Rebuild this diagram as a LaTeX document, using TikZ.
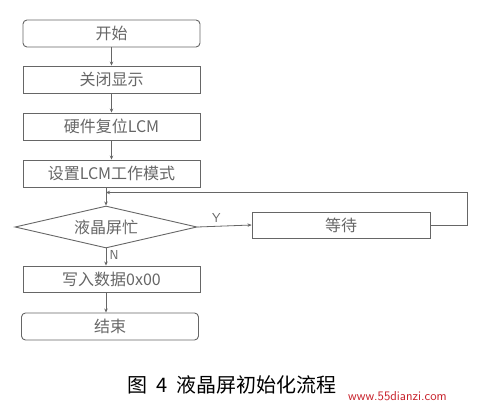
\documentclass[tikz,border=0pt]{standalone}
\usepackage{fontspec}
\newfontfamily\cjk{Noto Sans CJK SC}
\usetikzlibrary{shapes.geometric,arrows.meta}
\definecolor{ink}{gray}{0.4}
\definecolor{wm}{RGB}{200,30,40}
\begin{document}
\begin{tikzpicture}[x=1pt,y=-1pt,
  proc/.style={draw=ink,line width=0.9pt,minimum width=177pt,minimum height=27pt,inner sep=0pt,font=\cjk\fontsize{16}{16}\selectfont,text=ink},
  term/.style={proc,rounded corners=4pt},
  dec/.style={draw=ink,line width=0.9pt,diamond,aspect=4.5,minimum width=182pt,minimum height=42pt,inner sep=0pt,font=\cjk\fontsize{16}{16}\selectfont,text=ink},
  flow/.style={draw=ink,line width=0.8pt,-{Stealth[length=4pt,width=3.5pt]}},
  lab/.style={font=\sffamily\fontsize{13}{13}\selectfont,text=ink}]
\useasboundingbox (0,0) rectangle (484,406);
\node[term] (start) at (111.5,33.5) {开始};
\node[proc] (off) at (111.5,79.5) {关闭显示};
\node[proc] (rst) at (111.5,126.5) {硬件复位LCM};
\node[proc] (mode) at (111.5,173.5) {设置LCM工作模式};
\node[dec] (busy) at (106,227) {液晶屏忙};
\node[proc,minimum width=178pt,minimum height=26pt] (wait) at (341,225) {等待};
\node[proc,minimum height=26pt] (write) at (111.5,279) {写入数据0x00};
\node[term] (end) at (110,326.5) {结束};
\coordinate (join) at (106,192.5);
\coordinate (rc) at (467,192.5);
\draw[flow] (start) -- (off);
\draw[flow] (off) -- (rst);
\draw[flow] (rst) -- (mode);
\draw[flow] (mode.south -| busy.north) -- (busy.north);
\draw[flow] (busy.east) -- node[lab,above,pos=0.35] {Y} (wait.west);
\draw[flow] (wait.east) -| (rc) -- (join);
\draw[flow] (busy.south) -- node[lab,right,pos=0.4] {N} (write.north -| busy.south);
\draw[flow] (write.south -| busy.south) -- (end.north -| busy.south);
\node[font=\cjk\fontsize{20}{20}\selectfont,anchor=west] (cap) at (124,385) {图\ \ 4\ \ 液晶屏初始化流程};
\node[fill=white,inner sep=1pt,font=\sffamily\fontsize{13}{13}\selectfont,text=wm,anchor=west] (wmk) at (347,396) {www.55dianzi.com};
\end{tikzpicture}
\end{document}
